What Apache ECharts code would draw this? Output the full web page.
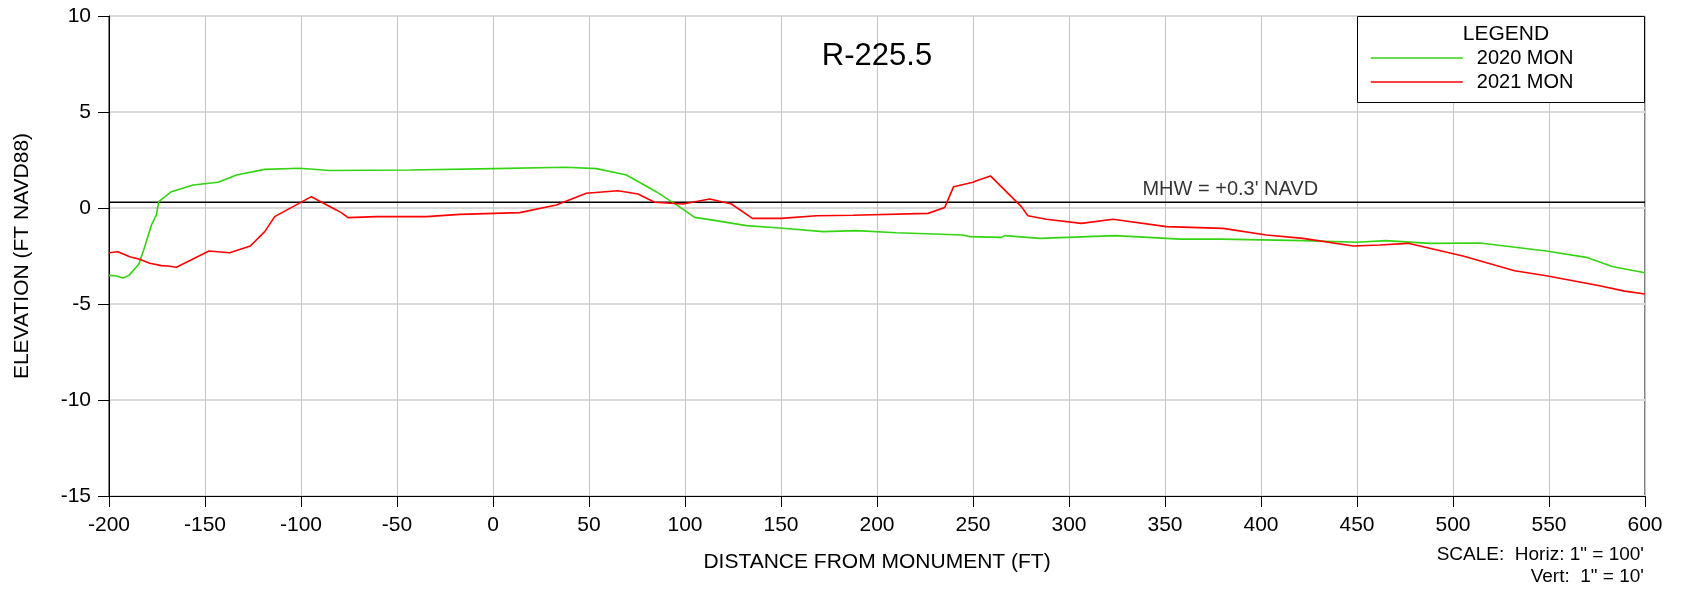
<!DOCTYPE html>
<html lang="en">
<head>
    <meta charset="UTF-8">
    <title>R-225.5 Profile</title>
    <script src="https://cdn.jsdelivr.net/npm/echarts@6/dist/echarts.min.js"></script>
    <style>
        html, body { margin: 0; padding: 0; background: #fff; }
        #chart { width: 1683px; height: 589px; }
    </style>
</head>
<body>
<div id="chart"></div>
<script>
    // profile data (distance ft, elevation ft NAVD88)
    const station2020 = [-200, -196, -192.7, -189.6, -184.4, -181.4, -177.9, -175.3, -174.1, -167.5, -156.2, -143.2, -133.6, -118.9, -100.7, -85, -43, 0, 38, 54, 69.5, 85, 97, 105, 114.6, 132, 149.3, 172, 189.3, 210, 244.8, 248.3, 264.8, 266.5, 285, 324, 358, 379, 422, 450, 465, 488, 514, 548.6, 569.5, 583.3, 600];
    const elev2020 = [-3.51, -3.54, -3.65, -3.51, -2.92, -2.02, -0.89, -0.36, 0.33, 0.85, 1.20, 1.34, 1.72, 2.01, 2.07, 1.95, 1.98, 2.05, 2.12, 2.05, 1.72, 0.85, 0.07, -0.49, -0.63, -0.92, -1.04, -1.23, -1.18, -1.29, -1.41, -1.49, -1.53, -1.44, -1.58, -1.44, -1.62, -1.62, -1.70, -1.78, -1.70, -1.84, -1.82, -2.24, -2.57, -3.06, -3.37];

    const station2021 = [-200, -195.3, -189.2, -184, -178.8, -172.7, -169.3, -164.9, -147.9, -137.1, -126.4, -118.9, -113.7, -94.6, -81.6, -79, -75.5, -60.7, -50.3, -34.7, -17.3, 13.9, 33, 48.6, 65.1, 75.5, 84.2, 99, 112.9, 124.2, 135.1, 150.2, 168.4, 187.5, 226.6, 235.3, 239.9, 250, 251.8, 259.1, 275.2, 278.6, 288.2, 306.5, 322.9, 350.7, 380.2, 402.8, 421.9, 448, 461.8, 476.6, 505.2, 532.1, 548.6, 572.9, 576.3, 589.4, 600];
    const elev2021 = [-2.33, -2.28, -2.54, -2.67, -2.88, -3.0, -3.02, -3.09, -2.24, -2.33, -1.98, -1.23, -0.45, 0.59, -0.10, -0.24, -0.50, -0.45, -0.45, -0.45, -0.33, -0.24, 0.16, 0.77, 0.90, 0.73, 0.30, 0.21, 0.47, 0.21, -0.54, -0.54, -0.40, -0.38, -0.28, 0.03, 1.11, 1.34, 1.42, 1.67, 0.07, -0.40, -0.59, -0.80, -0.59, -0.97, -1.06, -1.41, -1.58, -1.98, -1.93, -1.84, -2.50, -3.27, -3.53, -3.98, -4.05, -4.33, -4.48];

    const mhwElev = 0.3;
    const mhwLabelStation = 384;
    const xRange = [-200, 600];
    const yRange = [-15, 10];

    const font = 'Liberation Sans, Arial, sans-serif';

    function pairs(xs, ys) {
        return xs.map((x, i) => [x, ys[i]]);
    }

    let myChart = echarts.init(document.getElementById('chart'));

    let option = {
        animation: false,
        backgroundColor: '#fff',
        textStyle: { fontFamily: font },
        grid: {
            left: 109, right: 38, top: 16, bottom: 93,
            show: true, borderColor: '#000', borderWidth: 1
        },
        title: {
            text: 'R-225.5',
            left: 872, top: 36, textAlign: 'center',
            textStyle: { fontSize: 31, fontWeight: 'normal', color: '#000', fontFamily: font }
        },
        legend: {
            data: ['2020 MON', '2021 MON'],
            orient: 'vertical',
            left: 1370, top: 48,
            padding: 0,
            z: 60,
            itemWidth: 92, itemHeight: 14, itemGap: 4,
            itemStyle: { opacity: 0 },
            lineStyle: { width: 1.6 },
            textStyle: { fontSize: 20, color: '#000', fontFamily: font, padding: [0, 0, 0, 9] }
        },
        xAxis: {
            type: 'value',
            min: xRange[0], max: xRange[1], interval: 50,
            name: 'DISTANCE FROM MONUMENT (FT)',
            nameLocation: 'middle', nameGap: 56,
            nameTextStyle: { fontSize: 21, color: '#000' },
            axisLine: { onZero: false, lineStyle: { color: '#000', width: 1 } },
            axisTick: { length: 11, lineStyle: { color: '#000' } },
            axisLabel: { fontSize: 21, color: '#000', margin: 19 },
            splitLine: { show: true, lineStyle: { color: '#c4c4c4', width: 1 } }
        },
        yAxis: {
            type: 'value',
            min: yRange[0], max: yRange[1], interval: 5,
            name: 'ELEVATION (FT NAVD88)',
            nameLocation: 'middle', nameGap: 76,
            nameTextStyle: { fontSize: 21, color: '#000' },
            axisLine: { onZero: false, lineStyle: { color: '#000', width: 1 } },
            axisTick: { length: 11, lineStyle: { color: '#000' } },
            axisLabel: { fontSize: 21, color: '#000', margin: 18 },
            splitLine: { show: true, lineStyle: { color: '#dadada', width: 2 } }
        },
        series: [
            {
                name: 'MHW',
                type: 'line',
                data: [[xRange[0], mhwElev], [xRange[1], mhwElev]],
                symbol: 'none',
                silent: true,
                lineStyle: { color: '#000', width: 1.3 },
                z: 3
            },
            {
                name: 'MHW label',
                type: 'scatter',
                data: [[mhwLabelStation, mhwElev]],
                symbolSize: 0,
                silent: true,
                label: {
                    show: true, position: 'top', distance: 3,
                    formatter: "MHW = +0.3' NAVD",
                    fontSize: 20, color: '#000', fontFamily: font
                }
            },
            {
                name: '2020 MON',
                type: 'line',
                data: pairs(station2020, elev2020),
                symbol: 'none',
                lineStyle: { color: '#33d411', width: 1.6 },
                itemStyle: { color: '#33d411' },
                z: 4
            },
            {
                name: '2021 MON',
                type: 'line',
                data: pairs(station2021, elev2021),
                symbol: 'none',
                lineStyle: { color: '#ff0000', width: 1.6 },
                itemStyle: { color: '#ff0000' },
                z: 5
            }
        ],
        graphic: [
            {
                type: 'rect',
                shape: { x: 1357.5, y: 16.5, width: 287, height: 86 },
                style: { fill: '#fff', stroke: '#000', lineWidth: 1 },
                z: 50
            },
            {
                type: 'text',
                x: 1506, y: 34,
                style: { text: 'LEGEND', fontSize: 21, fontFamily: font, fill: '#000', align: 'center', verticalAlign: 'middle' },
                z: 51
            },
            {
                type: 'text',
                x: 1644, y: 555,
                style: { text: 'SCALE:  Horiz: 1" = 100\'', fontSize: 19, fontFamily: font, fill: '#000', align: 'right', verticalAlign: 'middle' },
                z: 51
            },
            {
                type: 'text',
                x: 1644, y: 577,
                style: { text: 'Vert:  1" = 10\'', fontSize: 19, fontFamily: font, fill: '#000', align: 'right', verticalAlign: 'middle' },
                z: 51
            }
        ]
    };

    myChart.setOption(option);
</script>
</body>
</html>
